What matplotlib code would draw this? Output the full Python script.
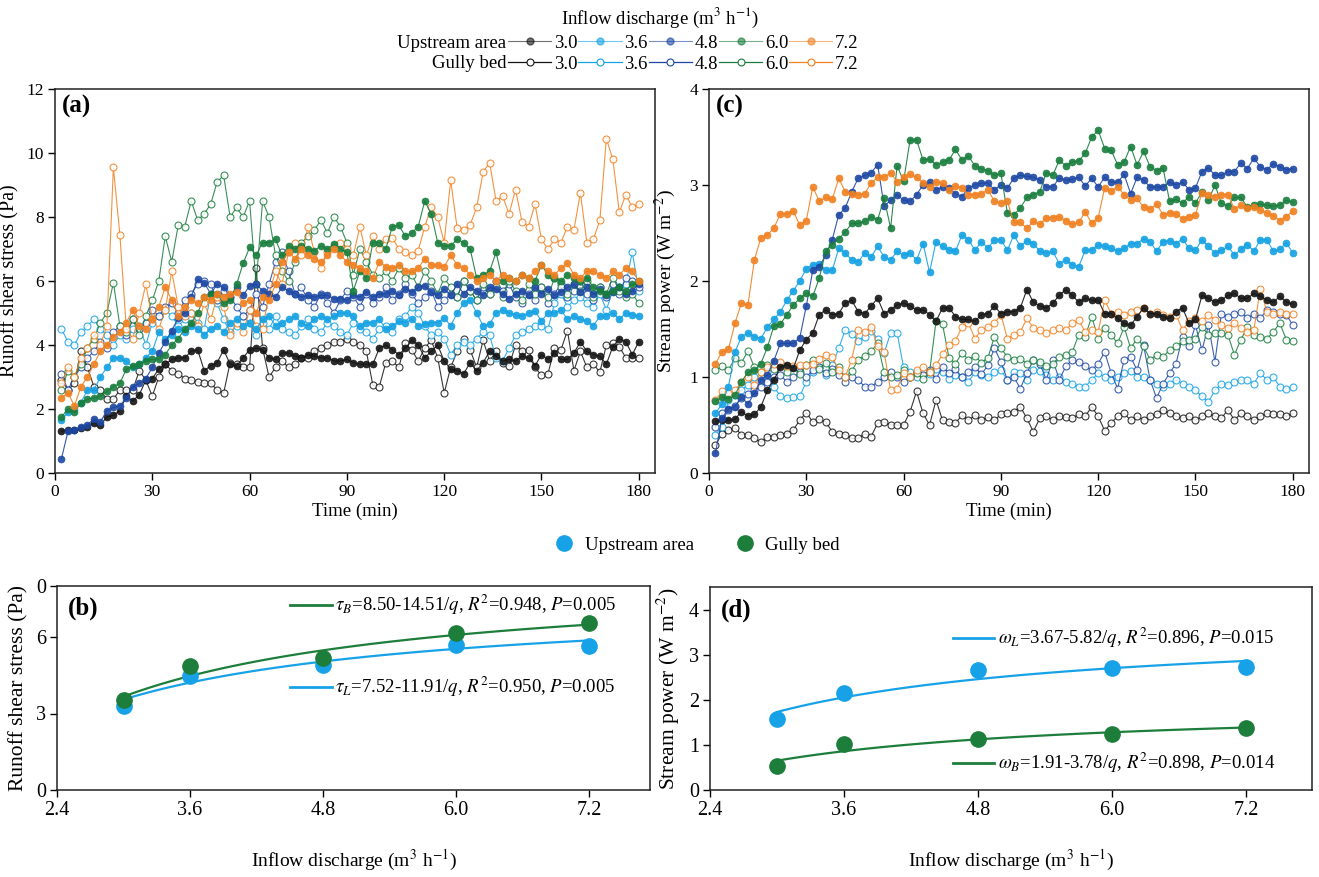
import matplotlib
matplotlib.use('Agg')
import matplotlib.pyplot as plt
from matplotlib.lines import Line2D
import numpy as np

plt.rcParams['font.family'] = 'Liberation Serif'
plt.rcParams['mathtext.fontset'] = 'stix'

# time axis (min)
time = list(range(2, 181, 2))
flows = ['3.0', '3.6', '4.8', '6.0', '7.2']
colors = ['#141414', '#13a1e3', '#1c47a3', '#187d3c', '#f08020']

# ---- (a) runoff shear stress (Pa), upstream area (filled) ----
tau_up_30 = [1.30, 1.35, 1.35, 1.40, 1.45, 1.55, 1.50, 1.75, 1.80, 1.95,
             2.40, 2.25, 2.45, 2.90, 2.95, 3.25, 3.40, 3.55, 3.60, 3.60,
             3.80, 3.85, 3.20, 3.35, 3.45, 3.85, 3.40, 3.35, 3.60, 3.85,
             3.90, 3.85, 3.60, 3.55, 3.75, 3.75, 3.65, 3.60, 3.70, 3.65,
             3.60, 3.60, 3.50, 3.50, 3.55, 3.45, 3.40, 3.40, 3.40, 3.90,
             4.00, 3.85, 3.70, 3.90, 4.15, 4.00, 3.60, 3.80, 4.00, 3.50,
             3.25, 3.20, 3.10, 3.45, 3.20, 3.45, 3.80, 3.65, 3.50, 3.55,
             3.50, 3.65, 3.60, 3.35, 3.70, 3.55, 3.75, 3.55, 3.55, 3.75,
             4.10, 3.80, 3.70, 3.65, 3.40, 3.95, 4.20, 4.10, 3.70, 4.10]
tau_up_36 = [1.65, 1.90, 2.00, 2.20, 2.60, 2.60, 3.00, 3.30, 3.60, 3.60,
             3.50, 3.30, 3.40, 3.60, 3.80, 4.40, 4.20, 4.30, 4.50, 4.40,
             4.60, 4.50, 4.30, 4.50, 4.60, 4.40, 4.70, 4.80, 4.60, 4.70,
             4.50, 4.80, 4.90, 4.60, 4.70, 4.80, 4.90, 4.70, 4.60, 4.80,
             4.90, 4.80, 4.90, 5.00, 5.00, 4.90, 4.60, 4.70, 4.70, 4.80,
             4.50, 4.60, 4.75, 4.70, 4.80, 4.60, 4.65, 4.70, 4.70, 4.85,
             4.60, 5.00, 5.30, 5.40, 5.00, 4.60, 4.65, 5.00, 5.10, 5.00,
             4.95, 4.90, 5.00, 5.05, 4.75, 5.00, 5.00, 5.10, 4.80, 4.90,
             4.80, 4.75, 4.60, 4.90, 4.90, 5.00, 4.80, 5.00, 4.95, 4.90]
tau_up_48 = [0.45, 1.30, 1.35, 1.45, 1.50, 1.70, 1.60, 1.95, 2.05, 2.10,
             2.35, 2.70, 2.80, 2.95, 3.30, 3.75, 4.10, 4.45, 4.85, 5.00,
             5.50, 6.05, 5.95, 5.60, 5.90, 5.80, 5.50, 5.80, 5.55, 5.85,
             5.90, 5.70, 5.60, 5.50, 5.80, 5.70, 5.60, 5.50, 5.55, 5.50,
             5.55, 5.55, 5.45, 5.45, 5.40, 5.55, 5.50, 5.65, 5.50, 5.60,
             5.60, 5.70, 5.55, 5.75, 5.65, 5.80, 5.85, 5.65, 5.55, 5.75,
             5.55, 5.90, 5.60, 5.80, 5.70, 5.55, 5.80, 5.75, 5.60, 5.45,
             5.60, 5.70, 5.55, 5.80, 5.60, 5.75, 5.55, 5.65, 5.80, 5.90,
             5.65, 5.80, 5.60, 5.75, 5.55, 5.65, 5.80, 5.60, 5.70, 5.90]
tau_up_60 = [1.75, 2.00, 1.90, 2.20, 2.30, 2.35, 2.40, 2.55, 2.70, 2.80,
             3.25, 3.35, 3.40, 3.50, 3.55, 3.55, 3.70, 4.00, 4.20, 4.50,
             4.70, 5.00, 5.50, 5.60, 5.60, 5.30, 5.40, 5.90, 6.55, 7.05,
             6.80, 7.20, 7.20, 7.30, 6.80, 7.10, 7.00, 7.10, 7.00, 6.95,
             7.10, 7.00, 7.15, 7.00, 6.90, 5.70, 6.30, 6.10, 7.20, 7.20,
             7.00, 7.70, 7.75, 7.40, 7.50, 7.70, 8.50, 8.10, 7.20, 7.10,
             7.10, 7.30, 7.20, 7.00, 6.10, 6.20, 6.30, 6.90, 6.00, 6.10,
             6.00, 6.20, 6.10, 6.00, 6.50, 6.20, 6.10, 6.00, 6.20, 6.10,
             6.00, 6.10, 5.80, 5.70, 5.60, 5.70, 5.80, 5.70, 5.90, 6.00]
tau_up_72 = [2.35, 2.50, 2.10, 2.70, 3.00, 3.40, 3.80, 4.00, 4.25, 4.40,
             4.70, 5.10, 4.60, 4.50, 4.80, 5.20, 5.80, 5.40, 4.90, 5.20,
             5.40, 5.30, 5.50, 5.40, 5.60, 5.50, 5.60, 5.65, 5.30, 5.40,
             5.00, 5.50, 5.40, 5.90, 6.60, 6.90, 6.70, 7.00, 6.80, 6.70,
             6.60, 6.80, 7.00, 6.80, 6.60, 6.50, 6.40, 6.30, 6.10, 6.60,
             6.45, 6.40, 6.50, 6.30, 6.30, 6.40, 6.70, 6.50, 6.50, 6.45,
             6.80, 6.50, 6.40, 6.20, 6.00, 6.10, 6.20, 6.00, 6.20, 6.10,
             6.00, 6.20, 6.10, 6.30, 6.50, 6.30, 6.20, 6.40, 6.55, 6.20,
             6.10, 6.30, 6.30, 6.20, 6.10, 6.30, 6.20, 6.40, 6.30, 6.00]

# ---- (a) runoff shear stress (Pa), gully bed (open) ----
tau_gb_30 = [2.90, 2.60, 2.80, 3.80, 3.30, 2.70, 2.60, 2.30, 2.30, 2.60,
             2.60, 2.60, 3.20, 2.90, 2.40, 3.00, 3.40, 3.20, 3.10, 2.95,
             2.90, 2.85, 2.80, 2.80, 2.60, 2.50, 3.45, 3.40, 3.30, 3.30,
             6.40, 3.90, 3.00, 3.30, 3.50, 3.30, 3.40, 3.60, 3.60, 3.80,
             3.90, 4.00, 4.10, 4.10, 4.20, 4.10, 4.00, 3.80, 2.75, 2.70,
             3.45, 3.50, 3.30, 4.05, 3.85, 3.50, 3.90, 4.15, 3.60, 2.50,
             3.30, 3.80, 4.20, 3.85, 3.30, 4.15, 3.50, 3.80, 3.45, 3.35,
             4.00, 3.80, 3.85, 3.30, 3.05, 3.10, 3.90, 3.85, 4.45, 3.20,
             3.80, 3.30, 3.40, 3.15, 4.00, 4.05, 3.95, 3.60, 3.60, 3.60]
tau_gb_36 = [4.50, 4.10, 4.00, 4.40, 4.60, 4.80, 4.50, 4.30, 4.00, 4.30,
             4.20, 4.50, 4.60, 4.00, 4.70, 4.90, 5.10, 4.90, 4.60, 4.80,
             5.00, 4.70, 4.50, 5.60, 5.30, 4.80, 4.40, 4.60, 4.90, 4.70,
             4.30, 4.70, 4.50, 4.90, 4.50, 4.40, 4.30, 4.60, 4.80, 4.50,
             4.40, 4.70, 4.60, 4.40, 4.30, 4.70, 4.50, 4.40, 4.20, 4.50,
             4.60, 4.40, 4.80, 4.90, 5.20, 5.00, 4.60, 4.30, 4.40, 4.20,
             3.70, 4.00, 4.10, 4.00, 4.20, 4.40, 4.30, 3.60, 3.50, 3.90,
             4.30, 4.40, 4.50, 4.60, 4.60, 4.50, 5.30, 5.60, 5.20, 5.40,
             5.50, 5.30, 5.20, 5.60, 5.10, 5.70, 5.80, 5.90, 6.90, 5.70]
tau_gb_48 = [3.10, 2.60, 3.00, 3.30, 3.60, 3.80, 4.10, 3.90, 4.40, 4.60,
             4.30, 4.80, 4.50, 4.70, 5.10, 4.90, 5.20, 5.30, 5.00, 5.40,
             5.60, 5.90, 6.00, 5.90, 5.40, 5.70, 5.50, 5.20, 4.90, 5.10,
             5.60, 5.20, 5.90, 6.60, 6.90, 6.30, 5.60, 5.80, 5.40, 5.20,
             5.60, 5.30, 5.00, 5.40, 5.70, 5.50, 5.20, 5.60, 5.30, 5.50,
             5.80, 5.40, 5.60, 5.90, 5.60, 5.30, 5.50, 5.70, 5.20, 5.40,
             5.60, 5.50, 6.00, 5.70, 5.40, 5.80, 5.60, 6.00, 5.70, 5.90,
             5.50, 5.30, 5.60, 5.40, 5.80, 5.30, 5.60, 5.90, 5.50, 5.70,
             6.00, 5.60, 5.40, 5.80, 5.50, 5.90, 5.60, 6.10, 6.00, 5.80]
tau_gb_60 = [2.60, 3.20, 3.00, 3.40, 3.90, 4.20, 4.70, 5.00, 5.95, 4.60,
             4.40, 4.80, 4.30, 4.90, 5.40, 6.00, 7.40, 6.60, 7.75, 7.70,
             8.50, 7.90, 8.10, 8.40, 9.10, 9.30, 8.00, 8.30, 8.00, 8.50,
             5.90, 8.50, 8.00, 6.80, 6.30, 6.00, 6.60, 7.20, 7.40, 7.60,
             7.90, 7.50, 8.00, 7.70, 7.20, 6.20, 7.00, 6.60, 6.20, 6.10,
             6.30, 6.00, 6.40, 6.10, 6.20, 5.80, 6.30, 6.00, 5.60, 6.10,
             5.80, 5.50, 6.00, 5.70, 5.40, 5.90, 5.60, 5.80, 5.50, 6.00,
             5.70, 5.40, 5.90, 5.60, 5.80, 5.50, 6.10, 5.80, 5.60, 5.90,
             5.70, 6.00, 5.50, 5.80, 5.60, 6.10, 5.70, 5.50, 5.60, 5.30]
tau_gb_72 = [2.80, 3.30, 3.00, 3.60, 3.90, 4.30, 4.00, 4.60, 9.55, 7.45,
             4.50, 4.20, 5.00, 5.90, 4.80, 4.50, 5.10, 6.30, 5.20, 4.90,
             5.00, 4.60, 5.30, 4.80, 5.50, 5.20, 4.30, 4.70, 4.40, 5.10,
             4.60, 4.50, 5.60, 6.30, 5.90, 6.90, 7.20, 6.80, 7.70, 6.90,
             6.40, 6.90, 7.10, 7.20, 7.00, 6.80, 7.70, 6.80, 7.40, 7.00,
             7.30, 7.35, 7.00, 6.90, 6.80, 6.95, 7.70, 8.30, 8.00, 7.20,
             9.15, 7.65, 7.60, 7.75, 8.30, 9.40, 9.70, 8.50, 8.65, 8.10,
             8.85, 7.85, 7.70, 8.40, 7.30, 7.00, 7.30, 7.20, 7.70, 7.60,
             8.75, 7.20, 7.30, 7.90, 10.45, 9.80, 8.15, 8.70, 8.30, 8.40]

# ---- (c) stream power (W m-2), upstream area (filled) ----
om_up_30 = [0.54, 0.55, 0.55, 0.56, 0.64, 0.59, 0.61, 0.69, 0.86, 0.97,
            1.10, 1.13, 1.09, 1.28, 1.39, 1.46, 1.65, 1.70, 1.65, 1.66,
            1.77, 1.80, 1.68, 1.66, 1.74, 1.82, 1.66, 1.70, 1.75, 1.77,
            1.74, 1.70, 1.70, 1.65, 1.58, 1.72, 1.72, 1.63, 1.60, 1.60,
            1.58, 1.65, 1.66, 1.74, 1.66, 1.68, 1.68, 1.72, 1.91, 1.78,
            1.74, 1.72, 1.77, 1.85, 1.91, 1.85, 1.78, 1.82, 1.80, 1.80,
            1.66, 1.66, 1.61, 1.56, 1.54, 1.63, 1.72, 1.66, 1.66, 1.63,
            1.61, 1.68, 1.72, 1.56, 1.60, 1.85, 1.82, 1.78, 1.80, 1.85,
            1.87, 1.82, 1.82, 1.87, 1.84, 1.80, 1.78, 1.84, 1.78, 1.76]
om_up_36 = [0.62, 0.72, 0.90, 1.26, 1.42, 1.46, 1.42, 1.40, 1.52, 1.60,
            1.68, 1.80, 1.90, 2.00, 2.13, 2.17, 2.18, 2.11, 2.11, 2.34,
            2.29, 2.22, 2.20, 2.29, 2.25, 2.36, 2.25, 2.22, 2.31, 2.27,
            2.29, 2.22, 2.39, 2.09, 2.41, 2.36, 2.32, 2.31, 2.48, 2.43,
            2.32, 2.41, 2.34, 2.43, 2.43, 2.32, 2.48, 2.36, 2.42, 2.39,
            2.31, 2.29, 2.31, 2.18, 2.22, 2.17, 2.15, 2.32, 2.32, 2.38,
            2.36, 2.34, 2.31, 2.34, 2.39, 2.39, 2.44, 2.41, 2.31, 2.41,
            2.42, 2.39, 2.44, 2.34, 2.32, 2.43, 2.36, 2.29, 2.32, 2.36,
            2.27, 2.33, 2.38, 2.31, 2.43, 2.43, 2.31, 2.33, 2.40, 2.29]
om_up_48 = [0.21, 0.57, 0.67, 0.69, 0.79, 0.72, 0.83, 0.97, 1.02, 1.17,
            1.35, 1.35, 1.35, 1.41, 1.74, 2.11, 2.15, 2.27, 2.43, 2.69,
            2.76, 2.93, 3.07, 3.10, 3.13, 3.21, 2.78, 2.84, 2.90, 2.84,
            2.83, 2.90, 3.00, 3.03, 2.95, 2.98, 2.97, 2.91, 2.88, 2.97,
            3.00, 3.02, 3.02, 2.95, 3.00, 2.97, 3.07, 3.10, 3.09, 3.08,
            3.05, 2.98, 2.98, 3.07, 3.05, 3.06, 3.08, 2.99, 3.07, 2.98,
            3.08, 3.03, 3.03, 3.11, 2.91, 3.08, 3.05, 2.98, 2.98, 2.98,
            3.03, 3.00, 3.03, 2.95, 2.97, 3.14, 3.18, 3.10, 3.10, 3.14,
            3.14, 3.23, 3.17, 3.28, 3.19, 3.16, 3.22, 3.19, 3.16, 3.17]
om_up_60 = [0.75, 0.79, 0.77, 0.81, 0.95, 1.05, 1.07, 1.14, 1.31, 1.53,
            1.55, 1.65, 1.75, 1.82, 1.87, 1.84, 2.03, 2.31, 2.38, 2.44,
            2.51, 2.60, 2.60, 2.62, 2.67, 2.64, 2.86, 2.55, 3.20, 3.04,
            3.47, 3.47, 3.26, 3.27, 3.21, 3.24, 3.26, 3.37, 3.26, 3.30,
            3.20, 3.17, 3.15, 3.10, 3.12, 2.71, 2.69, 2.76, 2.87, 2.90,
            2.93, 3.13, 3.10, 3.26, 3.20, 3.24, 3.25, 3.33, 3.50, 3.57,
            3.38, 3.36, 3.21, 3.24, 3.40, 3.21, 3.35, 3.19, 3.15, 3.18,
            2.83, 2.85, 2.81, 2.88, 2.81, 2.93, 2.84, 3.00, 2.81, 2.78,
            2.87, 2.87, 2.77, 2.79, 2.80, 2.79, 2.78, 2.79, 2.84, 2.82]
om_up_72 = [1.14, 1.26, 1.29, 1.56, 1.77, 1.75, 2.22, 2.45, 2.48, 2.55,
            2.70, 2.70, 2.73, 2.58, 2.63, 2.98, 2.83, 2.87, 2.85, 3.07,
            2.93, 2.91, 2.90, 2.91, 3.02, 3.08, 3.08, 3.13, 3.03, 3.08,
            3.11, 3.08, 3.02, 2.98, 3.03, 3.02, 2.95, 2.99, 2.97, 2.90,
            2.90, 2.91, 2.95, 2.83, 2.81, 2.83, 2.61, 2.61, 2.55, 2.62,
            2.59, 2.66, 2.66, 2.67, 2.63, 2.59, 2.61, 2.72, 2.60, 2.66,
            2.97, 2.94, 2.98, 2.90, 2.84, 2.86, 2.77, 2.75, 2.80, 2.69,
            2.71, 2.70, 2.65, 2.67, 2.69, 2.92, 2.90, 2.88, 2.90, 2.90,
            2.75, 2.79, 2.76, 2.77, 2.74, 2.71, 2.68, 2.63, 2.67, 2.73]

# ---- (c) stream power (W m-2), gully bed (open) ----
om_gb_30 = [0.29, 0.41, 0.45, 0.47, 0.40, 0.40, 0.36, 0.32, 0.38, 0.38,
            0.40, 0.41, 0.45, 0.55, 0.63, 0.53, 0.56, 0.53, 0.43, 0.41,
            0.40, 0.36, 0.36, 0.41, 0.38, 0.52, 0.53, 0.50, 0.50, 0.50,
            0.64, 0.85, 0.62, 0.50, 0.76, 0.55, 0.53, 0.52, 0.60, 0.55,
            0.60, 0.55, 0.58, 0.55, 0.61, 0.62, 0.64, 0.69, 0.57, 0.43,
            0.57, 0.59, 0.55, 0.59, 0.58, 0.57, 0.61, 0.59, 0.69, 0.59,
            0.44, 0.52, 0.59, 0.62, 0.55, 0.59, 0.55, 0.59, 0.61, 0.66,
            0.62, 0.59, 0.57, 0.59, 0.55, 0.59, 0.62, 0.59, 0.57, 0.66,
            0.55, 0.62, 0.59, 0.55, 0.59, 0.62, 0.61, 0.61, 0.59, 0.62]
om_gb_36 = [0.40, 0.48, 0.76, 0.81, 0.86, 0.92, 1.00, 0.95, 1.05, 0.90,
            0.80, 0.78, 0.79, 0.80, 0.95, 1.05, 1.10, 1.02, 1.12, 1.30,
            1.49, 1.45, 1.38, 1.42, 1.48, 1.40, 1.25, 1.46, 1.46, 1.10,
            1.05, 1.00, 1.07, 1.03, 1.08, 1.05, 0.98, 1.02, 1.00, 0.95,
            1.05, 1.02, 1.00, 1.05, 1.07, 0.97, 1.05, 1.04, 0.97, 1.07,
            1.06, 1.02, 0.97, 1.00, 0.95, 0.93, 0.90, 0.90, 0.97, 1.04,
            1.00, 0.97, 1.00, 1.04, 1.06, 1.00, 1.00, 0.97, 0.93, 0.90,
            0.93, 0.97, 0.93, 0.90, 0.86, 0.80, 0.74, 0.86, 0.93, 0.92,
            0.95, 0.97, 0.97, 0.93, 1.04, 0.97, 1.00, 0.90, 0.88, 0.90]
om_gb_48 = [0.48, 0.62, 0.66, 0.70, 0.78, 0.82, 0.86, 0.90, 0.95, 1.00,
            1.02, 0.95, 1.00, 1.05, 1.00, 1.07, 1.10, 1.04, 1.08, 1.02,
            0.95, 1.00, 0.97, 0.90, 0.90, 0.95, 1.00, 1.05, 1.00, 0.95,
            1.00, 1.05, 1.02, 1.07, 0.98, 1.10, 1.04, 1.08, 1.00, 1.05,
            1.10, 1.03, 1.12, 1.30, 1.16, 0.97, 1.00, 0.88, 1.04, 1.18,
            1.14, 0.97, 1.18, 0.97, 1.11, 1.18, 1.16, 1.11, 1.07, 1.14,
            1.26, 1.04, 0.88, 1.18, 1.21, 1.07, 1.33, 0.97, 0.78, 0.93,
            1.04, 1.14, 1.42, 1.32, 1.54, 1.28, 1.54, 1.16, 1.66, 1.63,
            1.66, 1.68, 1.61, 1.66, 1.61, 1.70, 1.68, 1.66, 1.65, 1.54]
om_gb_60 = [1.07, 1.11, 1.07, 1.20, 1.15, 1.27, 1.10, 1.05, 1.12, 1.08,
            1.15, 1.05, 1.10, 1.03, 1.12, 1.18, 1.08, 1.15, 1.05, 1.10,
            1.00, 1.06, 1.18, 1.22, 1.27, 1.35, 1.05, 1.00, 1.02, 1.07,
            1.00, 1.04, 0.98, 1.05, 1.58, 1.55, 1.20, 1.14, 1.25, 1.18,
            1.22, 1.15, 1.20, 1.42, 1.30, 1.21, 1.18, 1.19, 1.14, 1.18,
            1.16, 1.11, 1.14, 1.21, 1.23, 1.26, 1.44, 1.42, 1.63, 1.40,
            1.51, 1.44, 1.35, 1.52, 1.30, 1.40, 1.32, 1.18, 1.23, 1.21,
            1.28, 1.32, 1.37, 1.39, 1.40, 1.52, 1.44, 1.46, 1.46, 1.44,
            1.23, 1.39, 1.52, 1.44, 1.42, 1.40, 1.47, 1.56, 1.39, 1.37]
om_gb_72 = [0.76, 0.85, 0.83, 0.86, 0.95, 1.00, 0.92, 1.05, 1.10, 1.14,
            1.16, 1.11, 1.11, 1.12, 1.12, 1.14, 1.19, 1.23, 1.21, 1.07,
            1.00, 1.18, 1.49, 1.47, 1.52, 1.32, 1.26, 0.86, 0.88, 1.04,
            1.00, 1.07, 1.10, 1.05, 1.12, 1.24, 1.33, 1.38, 1.52, 1.56,
            1.40, 1.49, 1.52, 1.56, 1.65, 1.40, 1.44, 1.47, 1.61, 1.51,
            1.49, 1.46, 1.49, 1.51, 1.49, 1.56, 1.59, 1.47, 1.49, 1.47,
            1.80, 1.66, 1.68, 1.65, 1.68, 1.70, 1.72, 1.66, 1.68, 1.65,
            1.63, 1.65, 1.49, 1.58, 1.61, 1.58, 1.65, 1.59, 1.54, 1.51,
            1.56, 1.51, 1.47, 1.49, 1.92, 1.68, 1.66, 1.68, 1.66, 1.66]

# ---- (b), (d) mean values vs inflow discharge ----
q = [3.0, 3.6, 4.8, 6.0, 7.2]
q_ticks = [2.4, 3.6, 4.8, 6.0, 7.2]
q_ticklabels = ['2.4', '3.6', '4.8', '6.0', '7.2']
tau_mean_up = [3.28, 4.46, 4.91, 5.70, 5.66]
tau_mean_gb = [3.54, 4.85, 5.18, 6.16, 6.55]
om_mean_up = [1.57, 2.16, 2.66, 2.70, 2.72]
om_mean_gb = [0.53, 1.03, 1.13, 1.25, 1.375]

tau_up = [tau_up_30, tau_up_36, tau_up_48, tau_up_60, tau_up_72]
tau_gb = [tau_gb_30, tau_gb_36, tau_gb_48, tau_gb_60, tau_gb_72]
om_up = [om_up_30, om_up_36, om_up_48, om_up_60, om_up_72]
om_gb = [om_gb_30, om_gb_36, om_gb_48, om_gb_60, om_gb_72]

LB = '#17a2e8'
GR = '#1d7d3b'

fig = plt.figure(figsize=(13.19, 8.77), dpi=100)
W, H = 1319, 877


def px_axes(l, t, r, b):
    return fig.add_axes([l / W, 1 - b / H, (r - l) / W, (b - t) / H])


def style(ax, size=12.5):
    for s in ax.spines.values():
        s.set_linewidth(1.1)
        s.set_color('#222222')
    ax.tick_params(direction='out', length=5, width=1, labelsize=size,
                   top=False, right=False, pad=3)


def series(ax, up, gb):
    for c, ys in zip(colors, gb):
        ax.plot(time, ys, color=c, lw=0.8, alpha=0.85, marker='o', ms=5,
                mfc='white', mec=c, mew=0.8, zorder=2)
    for c, ys in zip(colors, up):
        ax.plot(time, ys, color=c, lw=0.8, alpha=0.9, marker='o', ms=5,
                mfc=c, mec=c, mew=0.5, zorder=3)


# (a)
axa = px_axes(55, 89, 655, 473)
series(axa, tau_up, tau_gb)
axa.set_xlim(0, 185)
axa.set_ylim(0, 12)
axa.set_xticks(range(0, 181, 30))
axa.set_yticks(range(0, 13, 2))
axa.set_xlabel('Time (min)', fontsize=13.5, labelpad=2)
axa.set_ylabel('Runoff shear stress (Pa)', fontsize=14.5, labelpad=5)
axa.text(0.012, 0.955, '(a)', transform=axa.transAxes, fontsize=18,
         fontweight='bold', va='center')
style(axa)

# (c)
axc = px_axes(709, 89, 1309, 473)
series(axc, om_up, om_gb)
axc.set_xlim(0, 185)
axc.set_ylim(0, 4)
axc.set_xticks(range(0, 181, 30))
axc.set_yticks(range(0, 5))
axc.set_xlabel('Time (min)', fontsize=13.5, labelpad=2)
axc.set_ylabel('Stream power (W m$^{-2}$)', fontsize=14, labelpad=8)
axc.text(0.012, 0.955, '(c)', transform=axc.transAxes, fontsize=18,
         fontweight='bold', va='center')
style(axc)

qfit = np.linspace(3.0, 7.2, 100)

# (b)
axb = px_axes(57, 586, 650, 790)
axb.plot(qfit, 8.50 - 14.51 / qfit, color=GR, lw=1.6, zorder=2)
axb.plot(qfit, 7.52 - 11.91 / qfit, color=LB, lw=1.6, zorder=2)
axb.plot(q, tau_mean_up, 'o', color=LB, ms=11, zorder=3)
axb.plot(q, tau_mean_gb, 'o', color=GR, ms=11, zorder=3)
axb.set_xlim(2.4, 7.75)
axb.set_ylim(0, 8)
axb.set_xticks(q_ticks)
axb.set_xticklabels(q_ticklabels)
axb.set_yticks([0, 3, 6, 8])
axb.set_yticklabels(['0', '3', '6', '0'])
axb.set_xlabel('Inflow discharge (m$^3$ h$^{-1}$)', fontsize=14, labelpad=20)
axb.set_ylabel('Runoff shear stress (Pa)', fontsize=15.5, labelpad=5)
axb.text(0.018, 0.89, '(b)', transform=axb.transAxes, fontsize=18,
         fontweight='bold', va='center')
axb.plot([0.393, 0.464], [0.907, 0.907], color=GR, lw=2, transform=axb.transAxes)
axb.text(0.468, 0.907, r'$\tau_B$=8.50-14.51/$q$, $R^2$=0.948, $P$=0.005',
         transform=axb.transAxes, fontsize=13.5, va='center')
axb.plot([0.393, 0.464], [0.505, 0.505], color=LB, lw=2, transform=axb.transAxes)
axb.text(0.468, 0.505, r'$\tau_L$=7.52-11.91/$q$, $R^2$=0.950, $P$=0.005',
         transform=axb.transAxes, fontsize=13.5, va='center')
style(axb, 14.5)

# (d)
axd = px_axes(710, 587, 1312, 790)
axd.plot(qfit, 3.67 - 5.82 / qfit, color=LB, lw=1.6, zorder=2)
axd.plot(qfit, 1.91 - 3.78 / qfit, color=GR, lw=1.6, zorder=2)
axd.plot(q, om_mean_up, 'o', color=LB, ms=11, zorder=3)
axd.plot(q, om_mean_gb, 'o', color=GR, ms=11, zorder=3)
axd.set_xlim(2.4, 7.79)
axd.set_ylim(0, 4.5)
axd.set_xticks(q_ticks)
axd.set_xticklabels(q_ticklabels)
axd.set_yticks(range(0, 5))
axd.set_xlabel('Inflow discharge (m$^3$ h$^{-1}$)', fontsize=14, labelpad=20)
axd.set_ylabel('Stream power (W m$^{-2}$)', fontsize=15.5, labelpad=5)
axd.text(0.018, 0.885, '(d)', transform=axd.transAxes, fontsize=18,
         fontweight='bold', va='center')
axd.plot([0.404, 0.472], [0.75, 0.75], color=LB, lw=2, transform=axd.transAxes)
axd.text(0.478, 0.75, r'$\omega_L$=3.67-5.82/$q$, $R^2$=0.896, $P$=0.015',
         transform=axd.transAxes, fontsize=13.5, va='center')
axd.plot([0.404, 0.472], [0.133, 0.133], color=GR, lw=2, transform=axd.transAxes)
axd.text(0.478, 0.133, r'$\omega_B$=1.91-3.78/$q$, $R^2$=0.898, $P$=0.014',
         transform=axd.transAxes, fontsize=13.5, va='center')
style(axd, 14.5)

# top legend
fig.text(660 / W, 1 - 18 / H, 'Inflow discharge (m$^3$ h$^{-1}$)',
         ha='center', va='center', fontsize=13.5)
fig.text(506 / W, 1 - 43 / H, 'Upstream area', ha='right', va='center', fontsize=13.5)
fig.text(506 / W, 1 - 64 / H, 'Gully bed', ha='right', va='center', fontsize=13.5)
h_up = [Line2D([], [], color=c, lw=0.8, alpha=0.6, marker='o', ms=5, mfc=c, mec=c)
        for c in colors]
h_gb = [Line2D([], [], color=c, lw=0.9, marker='o', ms=5, mfc='white', mec=c, mew=0.8)
        for c in colors]
for hs, yy in ((h_up, 43), (h_gb, 64)):
    fig.legend(hs, flows, ncol=5, loc='center left', bbox_to_anchor=(508 / W, 1 - yy / H),
               frameon=False, fontsize=13.5, handlelength=2.3, handletextpad=0.15,
               columnspacing=0.05, borderpad=0, borderaxespad=0)

# middle legend
h_mid = [Line2D([], [], ls='none', marker='o', ms=11, color=LB),
         Line2D([], [], ls='none', marker='o', ms=11, color=GR)]
fig.legend(h_mid, ['Upstream area', 'Gully bed'], ncol=2, loc='center left',
           bbox_to_anchor=(555 / W, 1 - 545 / H), frameon=False, fontsize=13.5,
           handlelength=1.0, handletextpad=0.6, columnspacing=2.2,
           borderpad=0, borderaxespad=0)

fig.savefig('out.png', dpi=100)
